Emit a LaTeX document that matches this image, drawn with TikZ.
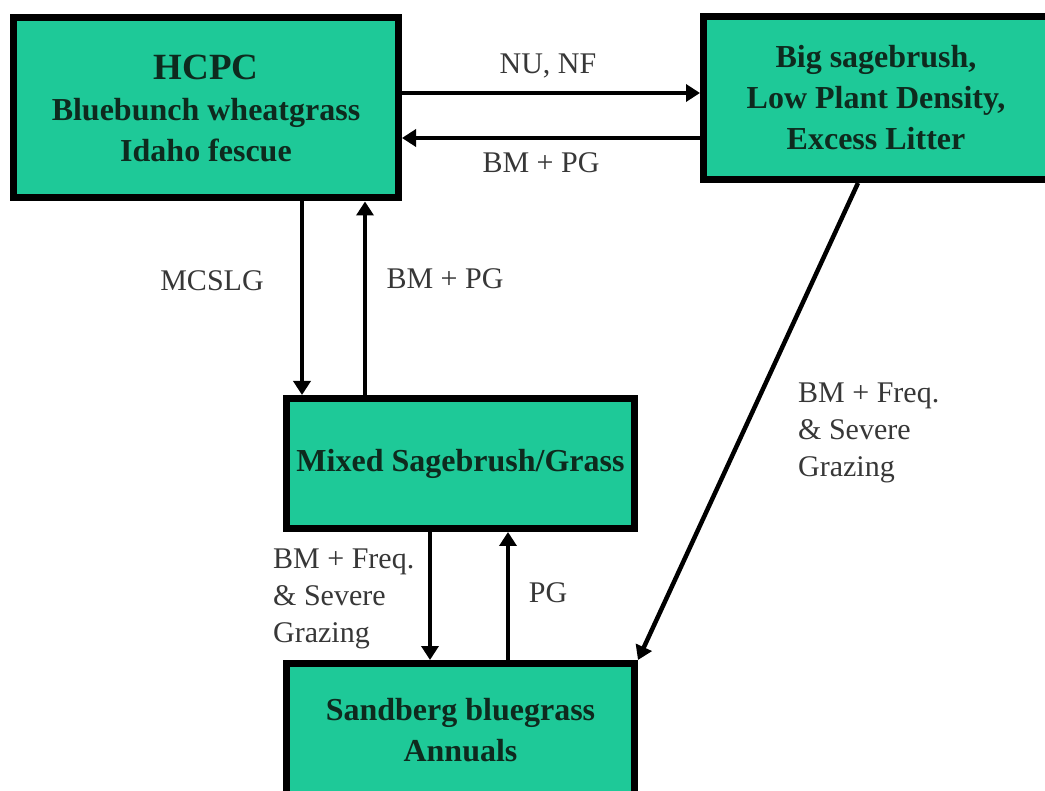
\documentclass[tikz,border=0pt]{standalone}
\usepackage{fontspec}
\setmainfont{Liberation Serif}
\usetikzlibrary{arrows.meta,positioning,calc}
\definecolor{boxteal}{RGB}{30,201,152}
\definecolor{boxtext}{RGB}{14,42,30}
\definecolor{lblgray}{RGB}{55,55,55}
\tikzset{
  statebox/.style={draw=black, line width=7pt, fill=boxteal, align=center, inner sep=0pt,
              text=boxtext, font=\fontsize{32}{41}\selectfont\bfseries},
  flowarr/.style={-{Triangle[length=14pt,width=17pt]}, line width=4.5pt},
  lbl/.style={font=\fontsize{30}{37}\selectfont, text=lblgray, inner sep=0pt},
}
\begin{document}
\begin{tikzpicture}[x=1pt,y=-1pt]
 \useasboundingbox (0,0) rectangle (1045,791);
 % states
 \node[statebox, minimum width=385pt, minimum height=180pt] (hcpc) at (206,108)
   {{\fontsize{37}{44}\selectfont HCPC}\\Bluebunch wheatgrass\\Idaho fescue};
 \node[statebox, minimum width=345pt, minimum height=163pt] (big) at (876,98)
   {Big sagebrush,\\Low Plant Density,\\Excess Litter};
 \node[statebox, minimum width=348pt, minimum height=130pt] (mix) at (460.5,463.5)
   {Mixed Sagebrush/Grass};
 \node[statebox, minimum width=348pt, minimum height=133pt] (sand) at (460.5,730)
   {Sandberg bluegrass\\Annuals};
 % transition labels
 \node[lbl] (nunf) at (548,66) {NU, NF};
 \node[lbl] (bmpgtop) at (541,163) {BM + PG};
 \node[lbl] (mcslg) at (212,281) {MCSLG};
 \node[lbl] (bmpgmid) at (445,279) {BM + PG};
 \node[lbl] (pg) at (548,593) {PG};
 \node[lbl, align=left, anchor=north west] (severelow) at (273,549)
   {BM + Freq.\\\& Severe\\Grazing};
 \node[lbl, align=left, anchor=north west] (severeright) at (798,383)
   {BM + Freq.\\\& Severe\\Grazing};
 % transitions
 \coordinate (ytop) at (0,93);
 \coordinate (ybot) at (0,138);
 \coordinate (xa) at (302,0);
 \coordinate (xb) at (365,0);
 \coordinate (xc) at (430,0);
 \coordinate (xd) at (508,0);
 \coordinate (xe) at (858,0);
 \draw[flowarr] (hcpc.east |- ytop) -- (big.west |- ytop);
 \draw[flowarr] (big.west |- ybot) -- (hcpc.east |- ybot);
 \draw[flowarr] (hcpc.south -| xa) -- (mix.north -| xa);
 \draw[flowarr] (mix.north -| xb) -- (hcpc.south -| xb);
 \draw[flowarr] (mix.south -| xc) -- (sand.north -| xc);
 \draw[flowarr] (sand.north -| xd) -- (mix.south -| xd);
 \draw[flowarr] (big.south -| xe) -- (sand.north east);
\end{tikzpicture}
\end{document}
